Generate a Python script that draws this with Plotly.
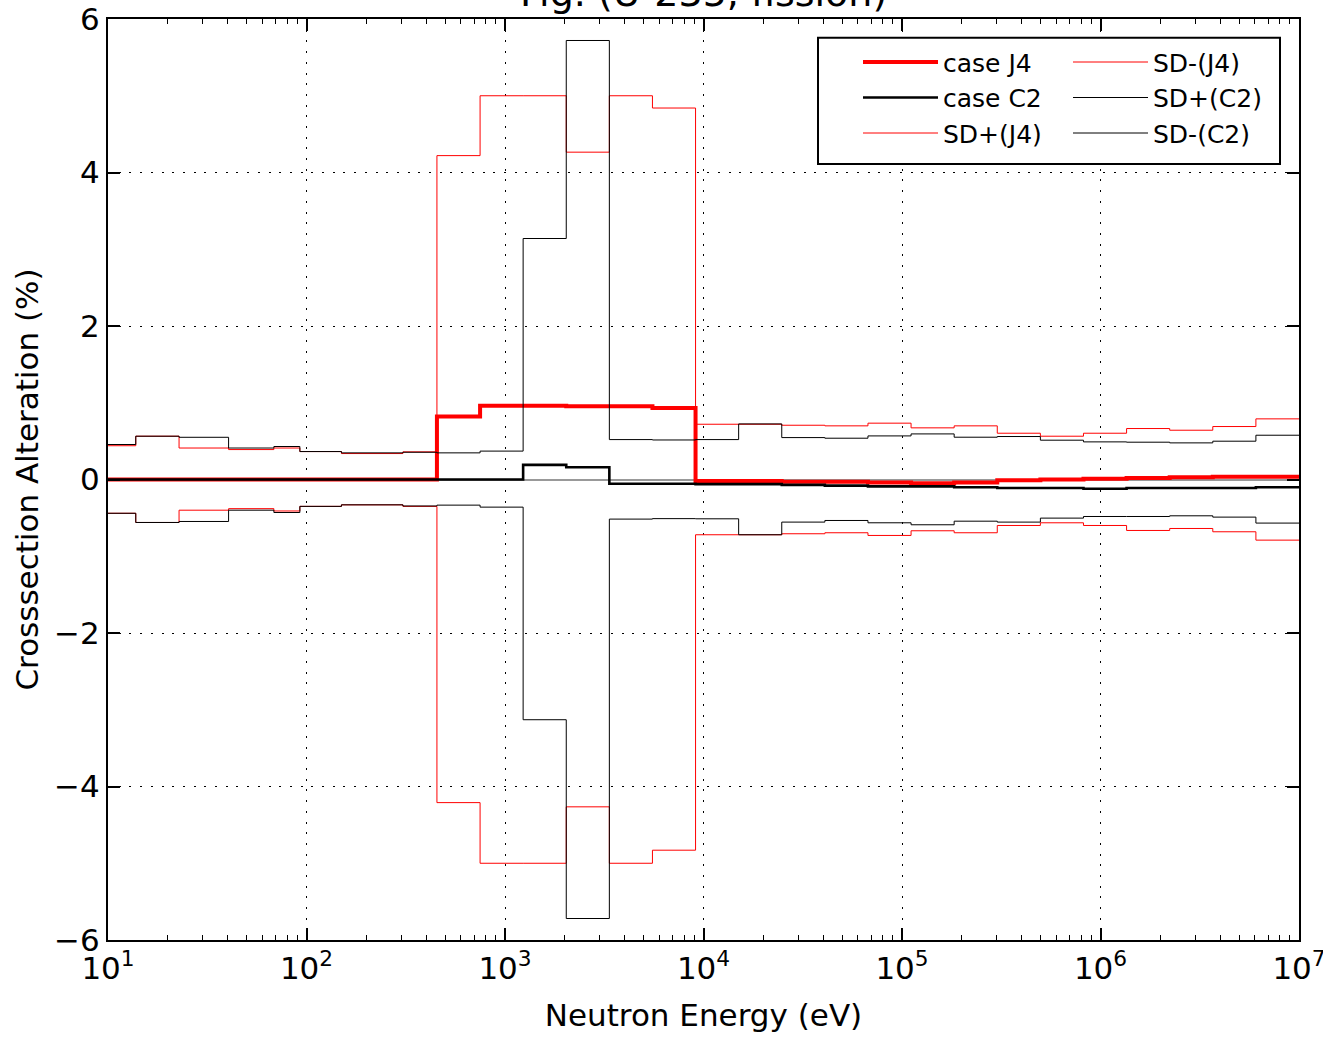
import plotly.graph_objects as go

# Bin edges (eV)
edges = [10, 13.8, 22.8, 40.5, 68.5, 92.6, 150, 306, 454,
         749, 1234, 2035, 3355, 5531, 9119, 15034, 24788, 40868,
         67379, 111090, 183156, 301974, 497871, 820850, 1353353,
         2231302, 3678794, 6065307, 1e7]

case_j4 = [0, 0, 0, 0, 0, 0, 0, 0,
           0.82, 0.96, 0.96, 0.955, 0.955, 0.93,
           -0.02, -0.02, -0.03, -0.03, -0.04, -0.05, -0.04,
           -0.01, 0.0, 0.01, 0.02, 0.03, 0.035, 0.035]

case_c2 = [0, 0, 0, 0, 0, 0, 0, 0,
           0, 0, 0.19, 0.16, -0.056, -0.056,
           -0.06, -0.06, -0.07, -0.08, -0.09, -0.09, -0.10,
           -0.11, -0.11, -0.12, -0.11, -0.11, -0.11, -0.10]

sd_plus_j4 = [0.44, 0.564, 0.41, 0.39, 0.41, 0.364, 0.338, 0.36,
              4.22, 5.0, 5.0, 4.265, 5.0, 4.84,
              0.72, 0.72, 0.707, 0.699, 0.734, 0.673, 0.699,
              0.603, 0.564, 0.603, 0.664, 0.642, 0.69, 0.79]

sd_minus_j4 = [-0.44, -0.56, -0.40, -0.38, -0.41, -0.35, -0.33, -0.35,
               -4.21, -5.0, -5.0, -4.265, -5.0, -4.83,
               -0.72, -0.72, -0.707, -0.694, -0.729, -0.668, -0.694,
               -0.599, -0.564, -0.599, -0.664, -0.638, -0.681, -0.79]

sd_plus_c2 = [0.456, 0.564, 0.55, 0.41, 0.43, 0.364, 0.347, 0.355,
              0.347, 0.37, 3.14, 5.72, 0.52, 0.515,
              0.52, 0.724, 0.546, 0.538, 0.568, 0.594, 0.551,
              0.56, 0.512, 0.49, 0.486, 0.477, 0.499, 0.577]

sd_minus_c2 = [-0.44, -0.56, -0.547, -0.40, -0.43, -0.35, -0.33, -0.345,
               -0.334, -0.36, -3.13, -5.72, -0.516, -0.51,
               -0.512, -0.72, -0.555, -0.534, -0.564, -0.59, -0.543,
               -0.555, -0.503, -0.482, -0.482, -0.473, -0.49, -0.568]

x_tick_vals = [1e1, 1e2, 1e3, 1e4, 1e5, 1e6, 1e7]
x_tick_text = ["10<sup>%d</sup>" % p for p in range(1, 8)]
y_tick_vals = [-6, -4, -2, 0, 2, 4, 6]

FONT = "DejaVu Sans"


def step(vals):
    return list(vals) + [vals[-1]]


series = [
    ("case J4", case_j4, "red", 4, "legend"),
    ("case C2", case_c2, "black", 2.6, "legend"),
    ("SD+(J4)", sd_plus_j4, "red", 1, "legend"),
    ("SD-(J4)", sd_minus_j4, "red", 1, "legend2"),
    ("SD+(C2)", sd_plus_c2, "black", 1, "legend2"),
    ("SD-(C2)", sd_minus_c2, "black", 1, "legend2"),
]

fig = go.Figure()
for name, vals, color, width, leg in series:
    fig.add_trace(go.Scatter(
        x=edges, y=step(vals), mode="lines", name=name,
        line=dict(color=color, width=width, shape="hv"),
        legend=leg,
    ))

minor_vals = [m * 10 ** p for p in range(1, 7) for m in range(2, 10)]

axis_common = dict(
    showline=True, linecolor="black", linewidth=2, mirror="allticks",
    ticks="inside", ticklen=12, tickwidth=1.5, tickcolor="black",
    showgrid=True, gridcolor="black", gridwidth=1.3, griddash="2px,8.7px",
    tickfont=dict(family=FONT, size=31, color="black"),
    automargin=False, ticklabeloverflow="allow",
)

fig.update_xaxes(
    type="log", range=[1, 7.0000001], tickmode="array",
    tickvals=x_tick_vals, ticktext=x_tick_text,
    minor=dict(tickmode="array", tickvals=minor_vals, ticks="inside",
               ticklen=5, tickwidth=1.2, tickcolor="black", showgrid=False),
    title=dict(text="Neutron Energy (eV)",
               font=dict(family=FONT, size=31, color="black"), standoff=19),
    **axis_common,
)
fig.update_yaxes(
    range=[-6, 6], tickmode="array", tickvals=y_tick_vals,
    zeroline=True, zerolinecolor="#999999", zerolinewidth=1.5,
    title=dict(text="Crosssection Alteration (%)",
               font=dict(family=FONT, size=31, color="black"), standoff=6),
    **axis_common,
)

leg_font = dict(family=FONT, size=25, color="black")
fig.update_layout(
    width=1323, height=1037,
    margin=dict(l=108, r=24, t=19, b=97, pad=0, autoexpand=False),
    plot_bgcolor="white", paper_bgcolor="white",
    font=dict(family=FONT, color="black"),
    showlegend=True,
    legend=dict(x=(858 - 108) / 1191, y=0.978, xanchor="left", yanchor="top",
                bgcolor="rgba(0,0,0,0)", borderwidth=0, font=leg_font,
                itemwidth=75, tracegroupgap=0),
    legend2=dict(x=(1068 - 108) / 1191, y=0.978, xanchor="left", yanchor="top",
                 bgcolor="rgba(0,0,0,0)", borderwidth=0, font=leg_font,
                 itemwidth=75, tracegroupgap=0),
    shapes=[dict(type="rect", xref="paper", yref="paper",
                 x0=(818 - 108) / 1191, x1=(1280 - 108) / 1191,
                 y0=1 - (164 - 19) / 921, y1=1 - (37.7 - 19) / 921,
                 line=dict(color="black", width=2), fillcolor="white",
                 layer="above")],
    annotations=[dict(text="Fig. (U-235, fission)", xref="paper", yref="paper",
                      x=0.5, y=1, xanchor="center", yanchor="bottom",
                      yshift=2, showarrow=False,
                      font=dict(family=FONT, size=38, color="black"))],
)

fig.write_html("out.html", config={"displayModeBar": False},
               post_script="document.body.style.margin='0';")
